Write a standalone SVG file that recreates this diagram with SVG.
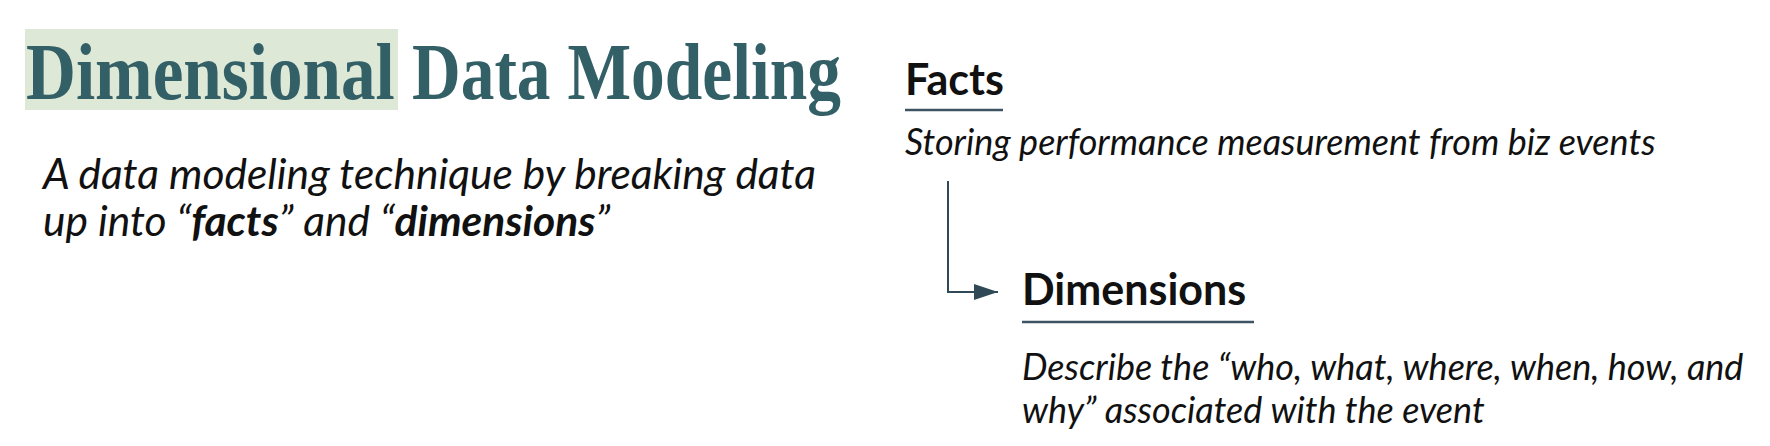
<svg xmlns="http://www.w3.org/2000/svg" width="1770" height="446" viewBox="0 0 1770 446">
<style>
.title{font-family:"Liberation Serif","DejaVu Serif",serif;font-weight:bold;font-size:80px;fill:#335f66}
.head{font-family:Lato,"Noto Sans",sans-serif;font-weight:bold;font-size:43px;fill:#111}
.body{font-family:Lato,"Noto Sans",sans-serif;font-style:italic;fill:#111}
.rule{stroke:#3d5563;stroke-width:2.5}
.conn{fill:none;stroke:#2f4a56;stroke-width:2}
</style>
<defs>
<marker id="ah" viewBox="0 0 24 16" refX="24" refY="8" markerWidth="24" markerHeight="16" markerUnits="userSpaceOnUse" orient="auto">
<path d="M0,0 L24,8 L0,16 z" fill="#2f4a56"/>
</marker>
</defs>
<rect width="1770" height="446" fill="#fff"/>
<g id="title">
<rect x="25" y="29" width="373" height="81" fill="#dde9d6"/>
<text class="title" transform="translate(26,99) scale(0.864,1)" x="0" y="0">Dimensional</text>
<text class="title" transform="translate(412,99) scale(0.843,1)" x="0" y="0">Data Modeling</text>
</g>
<g id="intro">
<text class="body" font-size="42.5" x="43" y="189">A data modeling technique by breaking data</text>
<text class="body" font-size="42.5" x="43" y="236">up into “<tspan font-weight="bold">facts</tspan>” and “<tspan font-weight="bold">dimensions</tspan>”</text>
</g>
<g id="facts">
<text class="head" x="905" y="95">Facts</text>
<line class="rule" x1="905" y1="110" x2="1003" y2="110"/>
<text class="body" font-size="36" x="905" y="155">Storing performance measurement from biz events</text>
</g>
<g id="dimensions">
<text class="head" x="1022" y="305">Dimensions</text>
<line class="rule" x1="1022" y1="322" x2="1254" y2="322"/>
<text class="body" font-size="36" x="1022" y="380">Describe the “who, what, where, when, how, and</text>
<text class="body" font-size="36" x="1022" y="423">why” associated with the event</text>
</g>
<g id="connectors">
<path class="conn" d="M948,181 V292 H998" marker-end="url(#ah)"/>
</g>
</svg>
